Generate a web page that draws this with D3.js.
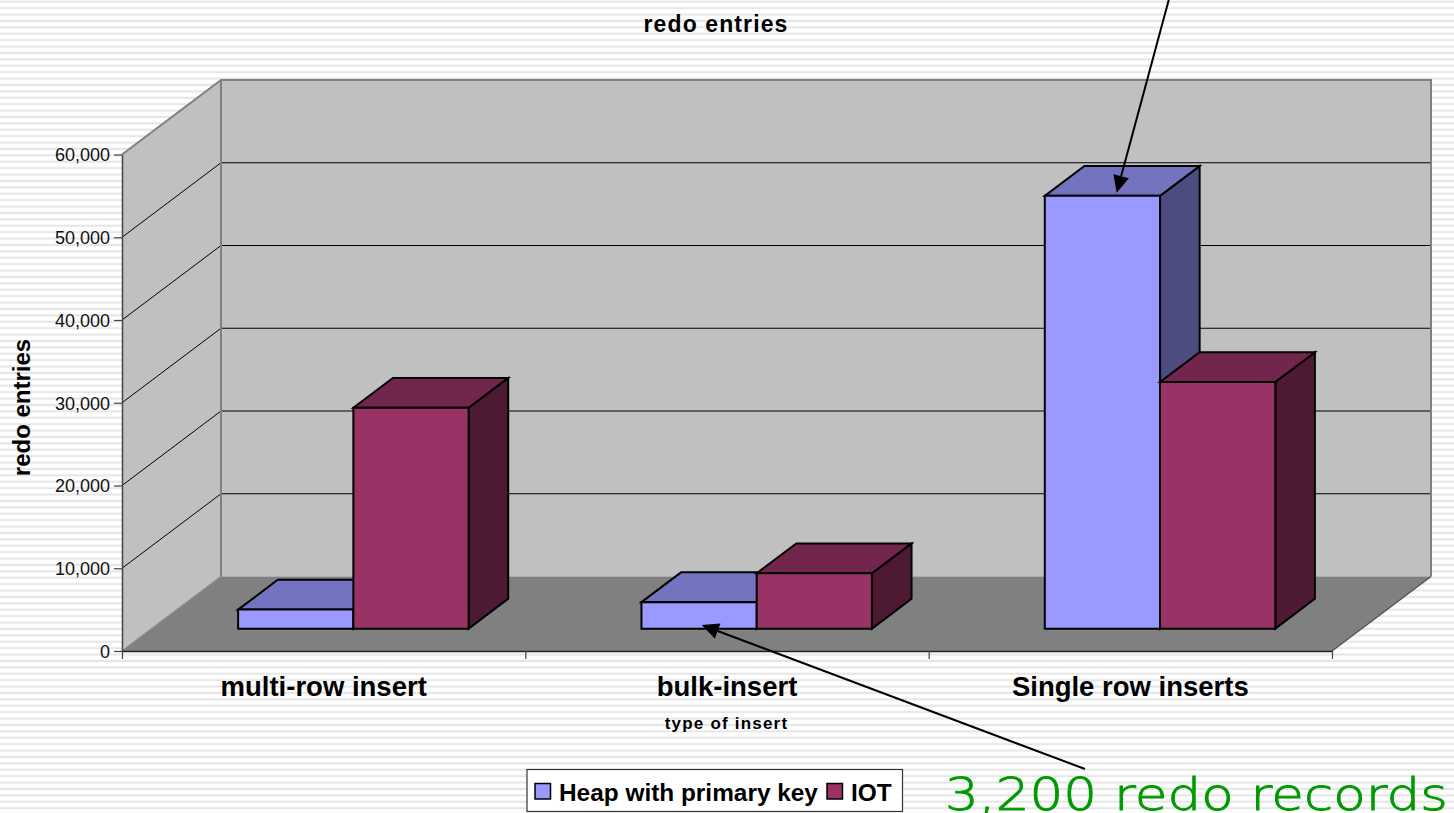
<!DOCTYPE html>
<html>
<head>
<meta charset="utf-8">
<style>
  html, body { margin: 0; padding: 0; background: #fff; overflow: hidden; }
  text { font-family: "Liberation Sans", Arial, sans-serif; fill: #000; }
</style>
<script src="https://cdnjs.cloudflare.com/ajax/libs/d3/7.8.5/d3.min.js"></script>
</head>
<body>
<div id="chart"></div>
<script>
const categories = ["multi-row insert", "bulk-insert", "Single row inserts"];
const seriesNames = ["Heap with primary key", "IOT"];
const heapValues = [2300, 3200, 52300];
const iotValues = [26700, 6700, 29800];
const yTicks = [0, 10000, 20000, 30000, 40000, 50000, 60000];

const width = 1454, height = 813;

function createChart() {
  const svg = d3.select("#chart").append("svg")
    .attr("width", width)
    .attr("height", height)
    .style("display", "block");

  // slide background: thin horizontal stripes
  const defs = svg.append("defs");
  defs.append("pattern")
    .attr("id", "stripes")
    .attr("patternUnits", "userSpaceOnUse")
    .attr("width", 16)
    .attr("height", 6.4)
    .append("rect")
    .attr("y", 0.7)
    .attr("width", 16)
    .attr("height", 2.1)
    .attr("fill", "#e6e6e6");
  svg.append("rect")
    .attr("width", width)
    .attr("height", height)
    .attr("fill", "url(#stripes)");

  // front plane of the chart box
  const left = 122, right = 1332, bottom = 651, top = 154.5;
  // how far the box recedes, back plane relative to front plane
  const depthX = 99, depthY = -74.5;

  const y = d3.scaleLinear().domain([0, 60000]).range([bottom, top]);
  const x0 = d3.scaleBand().domain(categories).range([left, right]);
  const xEdge = d3.scaleLinear().domain([0, categories.length]).range([left, right]);
  const x1 = d3.scaleBand().domain(seriesNames).range([0, x0.bandwidth()]).paddingOuter(0.75);

  // oblique projection, z runs 0 (front) to 1 (back)
  const px = (x, z) => x + depthX * z;
  const py = (v, z) => y(v) + depthY * z;
  const poly = pts => pts.map(p => p.join(",")).join(" ");

  const plot = svg.append("g");

  // walls and floor
  plot.append("polygon")
    .attr("points", poly([[px(left, 1), py(60000, 1)], [px(right, 1), py(60000, 1)], [px(right, 1), py(0, 1)], [px(left, 1), py(0, 1)]]))
    .attr("fill", "#c0c0c0");
  plot.append("polygon")
    .attr("points", poly([[left, py(60000, 0)], [px(left, 1), py(60000, 1)], [px(left, 1), py(0, 1)], [left, py(0, 0)]]))
    .attr("fill", "#c0c0c0");
  plot.append("polygon")
    .attr("points", poly([[left, py(0, 0)], [right, py(0, 0)], [px(right, 1), py(0, 1)], [px(left, 1), py(0, 1)]]))
    .attr("fill", "#808080");

  // gridlines across side wall and back wall
  plot.append("g").selectAll("polyline")
    .data(yTicks.slice(1, -1))
    .enter().append("polyline")
    .attr("points", d => poly([[left, py(d, 0)], [px(left, 1), py(d, 1)], [px(right, 1), py(d, 1)]]))
    .attr("fill", "none")
    .attr("stroke", "#000")
    .attr("stroke-width", 1);

  // box outline
  plot.append("polyline")
    .attr("points", poly([[left, py(60000, 0)], [px(left, 1), py(60000, 1)], [px(right, 1), py(60000, 1)], [px(right, 1), py(0, 1)]]))
    .attr("fill", "none")
    .attr("stroke", "#808080")
    .attr("stroke-width", 2);
  plot.append("line")
    .attr("x1", px(left, 1)).attr("x2", px(left, 1))
    .attr("y1", py(60000, 1)).attr("y2", py(0, 1))
    .attr("stroke", "#808080")
    .attr("stroke-width", 2);
  plot.append("line")
    .attr("x1", left).attr("x2", px(left, 1))
    .attr("y1", py(0, 0)).attr("y2", py(0, 1))
    .attr("stroke", "#8a8a8a")
    .attr("stroke-width", 1.5);
  plot.append("line")
    .attr("x1", right).attr("x2", px(right, 1))
    .attr("y1", py(0, 0)).attr("y2", py(0, 1))
    .attr("stroke", "#555")
    .attr("stroke-width", 1.5);

  // bars
  const zFront = 0.3, zBack = 0.7;
  const barColors = {
    "Heap with primary key": { front: "#9999ff", top: "#7373bf", side: "#4c4c80" },
    "IOT": { front: "#993366", top: "#73264d", side: "#4d1933" }
  };
  const rows = categories.map((c, i) => [
    { category: c, series: seriesNames[0], value: heapValues[i] },
    { category: c, series: seriesNames[1], value: iotValues[i] }
  ]).flat();

  const bars = plot.append("g").selectAll("g")
    .data(rows)
    .enter().append("g")
    .attr("stroke", "#000")
    .attr("stroke-width", 2)
    .attr("stroke-linejoin", "miter");

  bars.append("polygon")
    .attr("fill", d => barColors[d.series].side)
    .attr("points", d => {
      const xr = x0(d.category) + x1(d.series) + x1.bandwidth();
      return poly([[px(xr, zFront), py(d.value, zFront)], [px(xr, zBack), py(d.value, zBack)], [px(xr, zBack), py(0, zBack)], [px(xr, zFront), py(0, zFront)]]);
    });
  bars.append("polygon")
    .attr("fill", d => barColors[d.series].top)
    .attr("points", d => {
      const xl = x0(d.category) + x1(d.series), xr = xl + x1.bandwidth();
      return poly([[px(xl, zFront), py(d.value, zFront)], [px(xl, zBack), py(d.value, zBack)], [px(xr, zBack), py(d.value, zBack)], [px(xr, zFront), py(d.value, zFront)]]);
    });
  bars.append("polygon")
    .attr("fill", d => barColors[d.series].front)
    .attr("points", d => {
      const xl = x0(d.category) + x1(d.series), xr = xl + x1.bandwidth();
      return poly([[px(xl, zFront), py(d.value, zFront)], [px(xr, zFront), py(d.value, zFront)], [px(xr, zFront), py(0, zFront)], [px(xl, zFront), py(0, zFront)]]);
    });

  // axes
  const yAxis = svg.append("g")
    .attr("transform", "translate(" + left + ",0)")
    .call(d3.axisLeft(y).tickValues(yTicks).tickFormat(d3.format(",")).tickSize(8).tickSizeOuter(0));
  yAxis.select(".domain").attr("stroke", "#444").attr("stroke-width", 1.5);
  yAxis.selectAll(".tick line").attr("stroke", "#444").attr("stroke-width", 1.2);
  yAxis.selectAll(".tick text")
    .attr("x", -12)
    .attr("dy", "0.36em")
    .style("font-family", "'Liberation Sans', Arial, sans-serif")
    .style("font-size", "18px")
    .style("fill", "#111");

  const edgeAxis = svg.append("g")
    .attr("transform", "translate(0," + bottom + ")")
    .call(d3.axisBottom(xEdge).tickValues(d3.range(categories.length + 1)).tickFormat("").tickSize(8).tickSizeOuter(0));
  edgeAxis.select(".domain").attr("stroke", "#222").attr("stroke-width", 1.5);
  edgeAxis.selectAll(".tick line").attr("stroke", "#444").attr("stroke-width", 1.2);

  const catAxis = svg.append("g")
    .attr("transform", "translate(0," + bottom + ")")
    .call(d3.axisBottom(x0).tickSize(0));
  catAxis.select(".domain").remove();
  catAxis.selectAll(".tick text")
    .attr("y", 45)
    .attr("dy", 0)
    .style("font-family", "'Liberation Sans', Arial, sans-serif")
    .style("font-size", "27.5px")
    .style("font-weight", "bold")
    .style("fill", "#000");

  // titles
  svg.append("text")
    .attr("x", 716).attr("y", 31.5)
    .attr("text-anchor", "middle")
    .attr("font-size", 23)
    .attr("font-weight", "bold")
    .attr("letter-spacing", 1.1)
    .text("redo entries");
  svg.append("text")
    .attr("x", 726.5).attr("y", 729)
    .attr("text-anchor", "middle")
    .attr("font-size", 17)
    .attr("font-weight", "bold")
    .attr("letter-spacing", 1.2)
    .text("type of insert");
  svg.append("text")
    .attr("transform", "translate(30,407.5) rotate(-90)")
    .attr("text-anchor", "middle")
    .attr("font-size", 24)
    .attr("font-weight", "bold")
    .text("redo entries");

  // legend
  const legend = svg.append("g");
  legend.append("rect")
    .attr("x", 527).attr("y", 769.5)
    .attr("width", 375.5).attr("height", 42)
    .attr("fill", "#fff")
    .attr("stroke", "#333")
    .attr("stroke-width", 1.2);
  const legendItems = [
    { swatch: 535, label: 559, name: seriesNames[0] },
    { swatch: 827, label: 851, name: seriesNames[1] }
  ];
  legendItems.forEach(item => {
    legend.append("rect")
      .attr("x", item.swatch).attr("y", 783.5)
      .attr("width", 15.5).attr("height", 15.5)
      .attr("fill", barColors[item.name].front)
      .attr("stroke", "#000")
      .attr("stroke-width", 1.5);
    legend.append("text")
      .attr("x", item.label).attr("y", 800.5)
      .attr("font-size", 24.4)
      .attr("font-weight", "bold")
      .text(item.name);
  });

  // annotation arrows and callout
  const arrows = [
    { from: [1169, -1], to: [1116.7, 192.7] },
    { from: [1085, 769], to: [701.7, 625] }
  ];
  const arrowLayer = svg.append("g");
  arrows.forEach(a => {
    const angle = Math.atan2(a.to[1] - a.from[1], a.to[0] - a.from[0]);
    const headLen = 17, headWide = 8;
    const bx = a.to[0] - headLen * Math.cos(angle), by = a.to[1] - headLen * Math.sin(angle);
    const nx = -Math.sin(angle) * headWide, ny = Math.cos(angle) * headWide;
    arrowLayer.append("line")
      .attr("x1", a.from[0]).attr("y1", a.from[1])
      .attr("x2", bx).attr("y2", by)
      .attr("stroke", "#000")
      .attr("stroke-width", 2);
    arrowLayer.append("polygon")
      .attr("points", poly([a.to, [bx + nx, by + ny], [bx - nx, by - ny]]))
      .attr("fill", "#000");
  });

  svg.append("text")
    .attr("x", 945).attr("y", 810)
    .attr("textLength", 503)
    .attr("lengthAdjust", "spacingAndGlyphs")
    .style("font-family", "'DejaVu Sans', sans-serif")
    .style("font-weight", 200)
    .style("font-size", "45px")
    .style("fill", "#009900")
    .style("stroke", "#009900")
    .style("stroke-width", 0.9)
    .text("3,200 redo records");
}

createChart();
</script>
</body>
</html>
